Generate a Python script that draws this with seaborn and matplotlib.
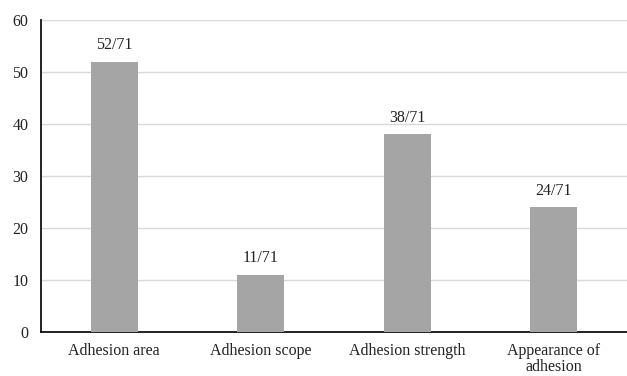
import matplotlib
matplotlib.use("Agg")
import matplotlib.pyplot as plt
import seaborn as sns
import pandas as pd

categories = ["Adhesion area", "Adhesion scope", "Adhesion strength", "Appearance of\nadhesion"]
values = [52, 11, 38, 24]
total = 71
yticks = [0, 10, 20, 30, 40, 50, 60]

sns.set_theme(style="white")
plt.rcParams['font.family'] = ['Liberation Serif', 'DejaVu Serif']

df = pd.DataFrame({"category": categories, "value": values})

fig = plt.figure(figsize=(6.27, 3.76), dpi=100)
ax = fig.add_axes([0.0654, 0.117, 0.9346, 0.830])
sns.barplot(data=df, x="category", y="value", color="#a5a5a5", width=0.32,
            saturation=1, ax=ax, zorder=3, linewidth=0, edgecolor="none")

for i, v in enumerate(values):
    ax.text(i, v + 1.6, f"{v}/{total}", ha="center", va="bottom", fontsize=11.5, color="#222222")

ax.set_ylim(0, 60)
ax.set_xlim(-0.5, 3.5)
ax.set_yticks(yticks)
ax.yaxis.grid(True, color="#d9d9d9", linewidth=1, zorder=0)
ax.set_axisbelow(True)
ax.set_xlabel("")
ax.set_ylabel("")
for s in ["top", "right"]:
    ax.spines[s].set_visible(False)
for s in ["left", "bottom"]:
    ax.spines[s].set_color("#111111")
    ax.spines[s].set_linewidth(1.3)
ax.tick_params(axis="both", labelsize=11.5, colors="#222222", length=0)
ax.tick_params(axis="y", pad=9)
ax.tick_params(axis="x", pad=8)
for lbl in ax.get_xticklabels():
    lbl.set_linespacing(0.95)

fig.savefig("out.png", dpi=100)
